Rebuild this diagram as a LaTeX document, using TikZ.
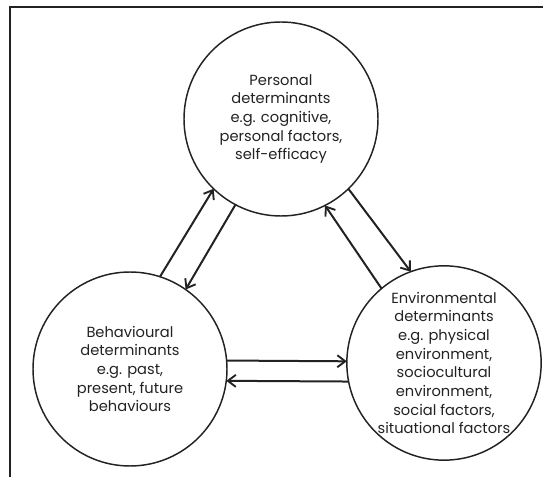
\documentclass[tikz,border=0pt]{standalone}
\usepackage{fontspec}
\setmainfont{Poppins}
\usetikzlibrary{arrows.meta}
\definecolor{ink}{HTML}{222222}
\begin{document}
\begin{tikzpicture}[x=0.75pt,y=-0.75pt,
  det/.style={circle,draw=ink,line width=1.1pt,minimum size=145.5pt,inner sep=0pt,outer sep=0pt,align=center,font=\fontsize{11}{14}\selectfont,text=ink},
  link/.style={draw=ink,line width=1.5pt,-{Straight Barb[length=6pt,width=9pt,line width=1.4pt]}},
  framepart/.style={draw=ink,line width=1pt}]
\useasboundingbox (0,0) rectangle (543,477);
\coordinate (f0) at (10,477);
\coordinate (f1) at (10,7);
\coordinate (f2) at (543,7);
\draw[framepart] (f0) -- (f1) -- (f2);
\node[det] (P) at (281,119) {Personal\\determinants\\e.g. cognitive,\\personal factors,\\self-efficacy};
\node[det] (B) at (130,369) {Behavioural\\determinants\\e.g. past,\\present, future\\behaviours};
\node[det] (E) at (444,363) {Environmental\\determinants\\e.g. physical\\environment,\\sociocultural\\environment,\\social factors,\\situational factors};
\draw[link] (B.72) -- (P.226);
\draw[link] (P.242) -- (B.55);
\draw[link] (E.130) -- (P.297);
\draw[link] (P.314) -- (E.110);
\draw[link] (B.5) -- (E.179);
\draw[link] (E.191) -- (B.-7);
\end{tikzpicture}
\end{document}
